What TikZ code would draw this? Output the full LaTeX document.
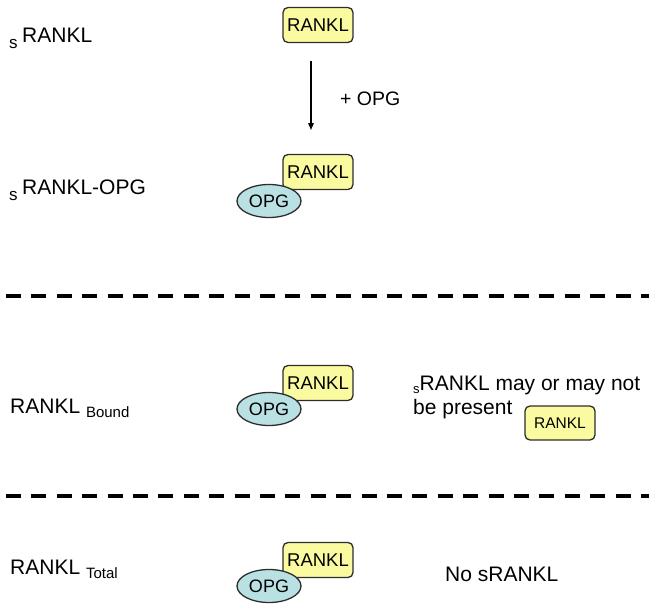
\documentclass[tikz,border=0pt]{standalone}
\usepackage{fontspec}
\setmainfont{Liberation Sans}
\usepackage{tikz}
\usetikzlibrary{arrows.meta}
\usetikzlibrary{shapes.geometric}

\definecolor{ranklfill}{RGB}{250,250,160}
\definecolor{opgfill}{RGB}{185,224,226}
\definecolor{edgegray}{RGB}{45,45,45}

\newcommand{\lowS}[1]{\raisebox{-3pt}{\fontsize{13}{13}\selectfont #1}}
\newcommand{\bigS}[1]{\raisebox{-6pt}{\fontsize{17}{17}\selectfont #1}\hspace{4.5pt}}
\newcommand{\lowSub}[1]{\raisebox{-4pt}{\fontsize{15}{15}\selectfont #1}}

\begin{document}
\begin{tikzpicture}[x=1pt,y=-1pt,
    rankl/.style={rectangle, rounded corners=5pt, draw=edgegray, line width=1.3pt,
        fill=ranklfill, minimum width=70pt, minimum height=35pt, inner sep=0pt,
        font=\fontsize{18.5}{18.5}\selectfont},
    opg/.style={ellipse, draw=edgegray, line width=1.3pt, fill=opgfill,
        minimum width=64pt, minimum height=33pt, inner sep=0pt,
        font=\fontsize{18}{18}\selectfont},
    lbl/.style={anchor=base west, inner sep=0pt, font=\fontsize{21}{21}\selectfont},
    sep/.style={line width=4pt, dash pattern=on 15pt off 10.4pt}
    ]
    \useasboundingbox (0,0) rectangle (649,605);

    % row labels
    \node[lbl] (lblA) at (9,42) {\bigS{s}RANKL};
    \node[lbl] (lblB) at (9,194) {\bigS{s}RANKL-OPG};
    \node[lbl] (lblC) at (10,413) {RANKL \lowSub{Bound}};
    \node[lbl] (lblD) at (10,574) {RANKL \lowSub{Total}};

    % draws complexes
    \node[rankl] (rA) at (318,25) {RANKL};
    \node[rankl] (rB) at (318,172) {RANKL};
    \node[opg] (oB) at (269,201) {OPG};
    \node[rankl] (rC) at (318,383) {RANKL};
    \node[opg] (oC) at (269,409) {OPG};
    \node[rankl] (rD) at (318,560) {RANKL};
    \node[opg] (oD) at (269,586) {OPG};

    % draws arrow
    \coordinate (arrS) at (311,61);
    \coordinate (arrE) at (311,130);
    \draw[line width=1.2pt, -{Triangle[length=7pt,width=5.5pt]}] (arrS) -- (arrE);
    \node[lbl, font=\fontsize{19.5}{19.5}\selectfont] (plus) at (340,105) {+ OPG};

    % notes on the right
    \node[lbl] (noteA) at (413,390) {\lowS{s}RANKL may or may not};
    \node[lbl] (noteB) at (413,414) {be present};
    \node[rankl, minimum height=34pt, font=\fontsize{15.5}{15.5}\selectfont] (rE) at (560,423) {RANKL};
    \node[lbl] (noteC) at (445,581) {No sRANKL};

    % separators
    \draw[sep] (6,296) -- (649,296);
    \draw[sep] (6,496) -- (649,496);
\end{tikzpicture}
\end{document}
